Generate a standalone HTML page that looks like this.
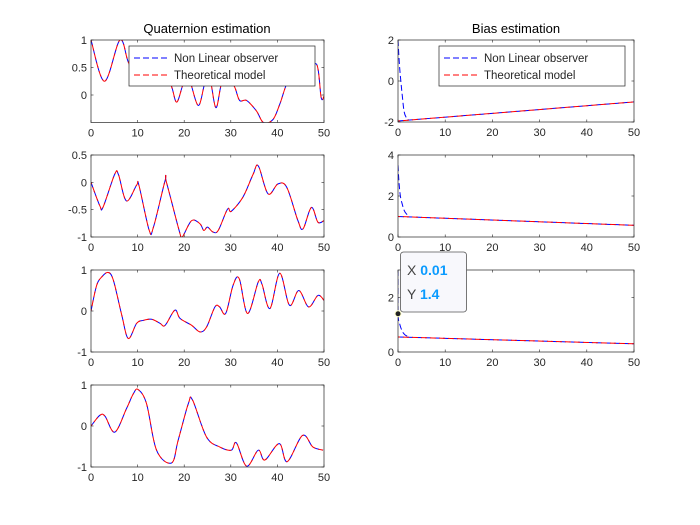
<!DOCTYPE html>
<html><head><meta charset="utf-8"><style>
body{margin:0;background:#fff}
svg{display:block;font-family:"Liberation Sans",sans-serif}
</style></head><body>
<svg id="fig" width="700" height="525" viewBox="0 0 700 525" xmlns="http://www.w3.org/2000/svg">
<rect width="700" height="525" fill="#fff"/>
</svg>
<script>
const q1T=[0,2.9,6.2,8,10,12,14,15.8,17.3,18.4,19.8,21,23,24.4,25.5,26.8,28,29.5,30.9,31.9,33.4,35.5,37,39,40.5,42,43.5,44.8,46,48.4,49.4,50];
const q1V=[1,0.25,1,0.6,0.3,0.6,0.3,0.4,0.15,-0.13,0.2,0.3,-0.19,0.2,0.3,-0.23,0.2,0.35,0.13,-0.1,-0.1,-0.29,-0.5,-0.45,-0.17,0.2,0.35,0.17,0.32,0.56,-0.05,-0.02];
const q2T=[0,1.9,2.6,5.1,5.9,7.6,9.8,10.3,12.5,13.4,15.9,16.2,19.1,19.6,21.6,23.4,24.2,25,26.2,27.3,29.3,30.1,32.6,34.8,35.9,38,40.1,42,44.4,45.5,47.3,48.7,50];
const q2V=[0,-0.43,-0.45,0.15,0.14,-0.34,-0.05,-0.06,-0.88,-0.82,0.03,0,-0.94,-1,-0.7,-0.76,-0.88,-0.82,-0.91,-0.88,-0.49,-0.53,-0.27,0.15,0.3,-0.21,-0.03,-0.09,-0.7,-0.85,-0.46,-0.73,-0.7];
const q3T=[0,1.2,2.3,3.7,4.8,6.6,8,9.8,11.2,13,14.8,15.9,18,19.1,21.6,23.4,24.8,26.6,27.6,28.9,30.5,31.8,33.6,35.9,36.7,38.4,40.5,42.6,44.6,46.7,48.7,50];
const q3V=[0,0.62,0.83,0.94,0.75,-0.1,-0.67,-0.3,-0.23,-0.2,-0.3,-0.35,0.02,-0.18,-0.35,-0.51,-0.39,0.1,0.1,-0.06,0.63,0.79,-0.06,0.71,0.65,0.06,0.92,0.14,0.5,0.1,0.38,0.26];
const q4T=[0,1.9,3,5.1,7.6,9.1,10.1,11.9,14.1,17.3,18.7,20.9,21.8,24.8,27.6,30.1,31.2,33.4,35.9,37.3,40.4,42.1,45.4,47.6,49.8];
const q4V=[0,0.26,0.24,-0.15,0.42,0.79,0.89,0.55,-0.6,-0.9,-0.35,0.55,0.63,-0.27,-0.51,-0.59,-0.41,-0.98,-0.59,-0.83,-0.43,-0.87,-0.23,-0.51,-0.59];
const bT=[0,50];
const b1Theo=[-1.95,-1.02];
const b2Theo=[1.0,0.57];
const b3Theo=[0.55,0.3];
const b1ObsT=[0,0.3,0.6,0.9,1.3,1.8,2.3];
const b1ObsV=[2,0.8,0,-0.7,-1.5,-1.8,-1.9];
const b2ObsT=[0,0.2,0.5,0.9,1.3,1.8,2.5];
const b2ObsV=[3.5,2.7,2.0,1.6,1.3,1.12,1.03];
const b3ObsT=[0,0.01,0.4,0.8,1.2,1.7,2.3];
const b3ObsV=[3,1.4,1.0,0.8,0.68,0.6,0.56];
const xTicks=[0,10,20,30,40,50];

const NS="http://www.w3.org/2000/svg";
const fig=document.getElementById('fig');
function el(tag,attrs,parent){const e=document.createElementNS(NS,tag);for(const k in attrs)e.setAttribute(k,attrs[k]);(parent||fig).appendChild(e);return e;}
function smooth(pts){
  if(pts.length<3){return 'M'+pts.map(p=>p[0].toFixed(2)+','+p[1].toFixed(2)).join('L');}
  let d='M'+pts[0][0].toFixed(2)+','+pts[0][1].toFixed(2);
  for(let i=0;i<pts.length-1;i++){
    const p0=pts[Math.max(0,i-1)],p1=pts[i],p2=pts[i+1],p3=pts[Math.min(pts.length-1,i+2)];
    const c1=[p1[0]+(p2[0]-p0[0])/6,p1[1]+(p2[1]-p0[1])/6];
    const c2=[p2[0]-(p3[0]-p1[0])/6,p2[1]-(p3[1]-p1[1])/6];
    d+='C'+c1[0].toFixed(2)+','+c1[1].toFixed(2)+' '+c2[0].toFixed(2)+','+c2[1].toFixed(2)+' '+p2[0].toFixed(2)+','+p2[1].toFixed(2);
  }
  return d;
}
function axes(name,x0,x1,y0,y1,ymin,ymax,yTicks,yLabels){
  const g=el('g',{});
  
  
  const sx=t=>x0+(t-0)/(50-0)*(x1-x0);
  const sy=v=>y1-(v-ymin)/(ymax-ymin)*(y1-y0);
  el('rect',{x:x0,y:y0,width:x1-x0,height:y1-y0,fill:'#fff'},g);
  const clipId=name+'-clip';
  const cp=el('clipPath',{id:clipId},g);el('rect',{x:x0,y:y0,width:x1-x0,height:y1-y0},cp);
  const plot=el('g',{'clip-path':'url(#'+clipId+')'},g);
  xTicks.forEach(t=>{
    const x=sx(t);
    el('line',{x1:x,y1:y1,x2:x,y2:y1-2.5,stroke:'#262626','stroke-width':0.6},g);
    el('line',{x1:x,y1:y0,x2:x,y2:y0+2.5,stroke:'#262626','stroke-width':0.6},g);
    const tx=el('text',{x:x,y:y1+14,'font-size':11,'text-anchor':'middle',fill:'#262626'},g);tx.textContent=t;
    
    
  });
  yTicks.forEach((v,i)=>{
    const y=sy(v);
    el('line',{x1:x0,y1:y,x2:x0+2.5,y2:y,stroke:'#262626','stroke-width':0.6},g);
    el('line',{x1:x1,y1:y,x2:x1-2.5,y2:y,stroke:'#262626','stroke-width':0.6},g);
    const tx=el('text',{x:x0-4,y:y+4,'font-size':11,'text-anchor':'end',fill:'#262626'},g);tx.textContent=yLabels[i];
    
    
  });
  el('rect',{x:x0,y:y0,width:x1-x0,height:y1-y0,fill:'none',stroke:'#262626','stroke-width':0.7},g);
  return {g,plot,sx,sy};
}
function series(ax,T,V,color,name,offset){
  const pts=T.map((t,i)=>[ax.sx(t),ax.sy(V[i])]);
  const p=el('path',{d:smooth(pts),fill:'none',stroke:color,'stroke-width':1,'stroke-dasharray':'6,3','stroke-dashoffset':offset},ax.plot);
  
  
}
function legend(x,y,name){
  const g=el('g',{});
  
  
  el('rect',{x:x,y:y,width:186,height:40,fill:'#fff',stroke:'#262626','stroke-width':0.7},g);
  el('line',{x1:x+5,y1:y+12,x2:x+41,y2:y+12,stroke:'#0000ff','stroke-width':1,'stroke-dasharray':'6,3'},g);
  el('line',{x1:x+5,y1:y+29,x2:x+41,y2:y+29,stroke:'#ff0000','stroke-width':1,'stroke-dasharray':'6,3'},g);
  const t1=el('text',{x:x+45,y:y+16,'font-size':11.5,fill:'#262626'},g);t1.textContent='Non Linear observer';
  
  
  const t2=el('text',{x:x+45,y:y+33,'font-size':11.5,fill:'#262626'},g);t2.textContent='Theoretical model';
  
  
}
const LX0=91,LX1=324,RX0=398,RX1=634;
const a1=axes('quaternion-axes-1',LX0,LX1,40,122.5,-0.5,1,[0,0.5,1],['0','0.5','1']);
series(a1,q1T,q1V,'#0000ff','q1-observer-line',0);series(a1,q1T,q1V,'#ff0000','q1-theoretical-line',4);
const a2=axes('quaternion-axes-2',LX0,LX1,155,237,-1,0.5,[-1,-0.5,0,0.5],['-1','-0.5','0','0.5']);
series(a2,q2T,q2V,'#0000ff','q2-observer-line',0);series(a2,q2T,q2V,'#ff0000','q2-theoretical-line',4);
const a3=axes('quaternion-axes-3',LX0,LX1,270,352,-1,1,[-1,0,1],['-1','0','1']);
series(a3,q3T,q3V,'#0000ff','q3-observer-line',0);series(a3,q3T,q3V,'#ff0000','q3-theoretical-line',4);
const a4=axes('quaternion-axes-4',LX0,LX1,385,467,-1,1,[-1,0,1],['-1','0','1']);
series(a4,q4T,q4V,'#0000ff','q4-observer-line',0);series(a4,q4T,q4V,'#ff0000','q4-theoretical-line',4);
const b1=axes('bias-axes-1',RX0,RX1,40,122,-2,2,[-2,0,2],['-2','0','2']);
series(b1,b1ObsT,b1ObsV,'#0000ff','b1-observer-transient',0);series(b1,bT,b1Theo,'#0000ff','b1-observer-line',0);series(b1,bT,b1Theo,'#ff0000','b1-theoretical-line',4);
const b2=axes('bias-axes-2',RX0,RX1,155,237,0,4,[0,2,4],['0','2','4']);
series(b2,b2ObsT,b2ObsV,'#0000ff','b2-observer-transient',0);series(b2,bT,b2Theo,'#0000ff','b2-observer-line',0);series(b2,bT,b2Theo,'#ff0000','b2-theoretical-line',4);
const b3=axes('bias-axes-3',RX0,RX1,270,352,0,3,[0,2],['0','2']);
series(b3,b3ObsT,b3ObsV,'#0000ff','b3-observer-transient',0);series(b3,bT,b3Theo,'#0000ff','b3-observer-line',0);series(b3,bT,b3Theo,'#ff0000','b3-theoretical-line',4);
legend(129,46,'quaternion-legend');
legend(439,46,'bias-legend');
const t1=el('text',{x:207,y:33,'font-size':13,'text-anchor':'middle',fill:'#000'});t1.textContent='Quaternion estimation';


const t2=el('text',{x:516,y:33,'font-size':13,'text-anchor':'middle',fill:'#000'});t2.textContent='Bias estimation';


// datatip
const dt=el('g',{});


el('rect',{x:400.5,y:252,width:66,height:60,rx:3,fill:'#f8f8fc',stroke:'#555','stroke-width':0.8},dt);
const dx=el('text',{x:407,y:275,'font-size':14,fill:'#444'},dt);dx.innerHTML='X <tspan font-weight="bold" fill="#0a9bff">0.01</tspan>';


const dy=el('text',{x:407,y:299,'font-size':14,fill:'#444'},dt);dy.innerHTML='Y <tspan font-weight="bold" fill="#0a9bff">1.4</tspan>';


const mk=el('circle',{cx:b3.sx(0.01),cy:b3.sy(1.4),r:3,fill:'#222',stroke:'#ffffcc','stroke-width':1},dt);


</script>
</body></html>
